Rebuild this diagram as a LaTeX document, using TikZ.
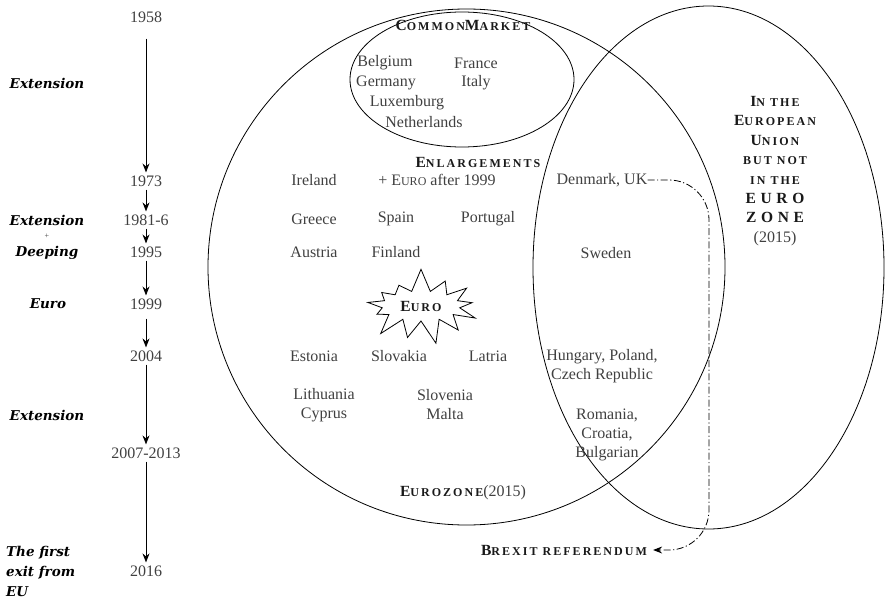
\documentclass[tikz,border=0pt]{standalone}
\usepackage{fontspec}
\setmainfont{Liberation Serif}
\newfontfamily\hdfont[LetterSpace=17]{Liberation Serif}
\newfontfamily\widefont[LetterSpace=30]{Liberation Serif}
\newfontfamily\lblfont{DejaVu Serif}
\usetikzlibrary{arrows.meta,shapes.symbols}
\definecolor{txt}{gray}{0.25}
\definecolor{hdc}{gray}{0.1}
\newcommand\hsc[2]{{\fontsize{15.5}{18}\selectfont #1}{\fontsize{12}{14}\selectfont #2}}
\begin{document}
\begin{tikzpicture}[x=1pt,y=-1pt,
  txtn/.style={font=\fontsize{16}{19}\selectfont, text=txt, inner sep=0pt, align=center},
  yr/.style={txtn, inner sep=3pt},
  hd/.style={font=\hdfont\bfseries\fontsize{12}{19.4}\selectfont, text=hdc, inner sep=0pt, align=center},
  lbl/.style={font=\lblfont\bfseries\itshape\fontsize{13.5}{20}\selectfont, text=black, inner sep=0pt},
  tl/.style={draw, -{Stealth[length=9pt,width=7pt,inset=3pt]}, line width=0.9pt},
  circ/.style={draw, line width=0.8pt},
  brx/.style={draw, line width=0.8pt, dash pattern=on 7pt off 2.5pt on 1.2pt off 2.5pt, rounded corners=40pt, -{Stealth[length=9pt,width=7pt,inset=3pt]}}
]
\useasboundingbox (0,0) rectangle (885,599);
% ellipses
\draw[circ] (466.5,267) ellipse [x radius=258.5pt, y radius=258pt];
\draw[circ] (708.5,267.5) ellipse [x radius=175.5pt, y radius=261.5pt];
\draw[circ] (462,79.5) ellipse [x radius=112pt, y radius=67.5pt];
% timeline
\node[yr] (y1958) at (146,17) {1958};
\node[yr] (y1973) at (146,181) {1973};
\node[yr] (y1981) at (146,220) {1981-6};
\node[yr] (y1995) at (146,252) {1995};
\node[yr] (y1999) at (146,304) {1999};
\node[yr] (y2004) at (146,356) {2004};
\node[yr] (y2007) at (146,453) {2007-2013};
\node[yr] (y2016) at (146,571) {2016};
\draw[tl, shorten <=13pt] (y1958) -- (y1973);
\draw[tl] (y1973) -- (y1981);
\draw[tl] (y1981) -- (y1995);
\draw[tl] (y1995) -- (y1999);
\draw[tl, shorten <=6pt] (y1999) -- (y2004);
\draw[tl] (y2004) -- (y2007);
\draw[tl] (y2007) -- (y2016);
% left labels
\node[lbl] (l1) at (47,83) {Extension};
\node[lbl] (l2) at (47,220) {Extension};
\node[txtn, font=\fontsize{8}{9}\selectfont] (lplus) at (47,236) {+};
\node[lbl] (l3) at (47,253) {Deeping};
\node[lbl] (l4) at (48,304) {Euro};
\node[lbl] (l5) at (47,415) {Extension};
\node[lbl, align=left, anchor=west] (l6) at (6,571) {The first\\exit from\\EU};
% common market
\node[hd] (cm) at (463,25) {\hsc{C}{OMMON}\hsc{M}{ARKET}};
\node[txtn] (be) at (385,63) {Belgium};
\node[txtn] (fr) at (476,63) {France};
\node[txtn] (de) at (386,83) {Germany};
\node[txtn] (it) at (476,83) {Italy};
\node[txtn] (lu) at (407,103) {Luxemburg};
\node[txtn] (nl) at (424,122) {Netherlands};
% enlargements
\node[hd] (enl) at (478,162) {\hsc{E}{NLARGEMENTS}};
\node[txtn] (ie) at (314,180) {Ireland};
\node[txtn] (eu99) at (437,180) {+ E{\fontsize{12}{14}\selectfont URO} after 1999};
\node[txtn] (dk) at (602,180) {Denmark, UK};
\node[txtn] (gr) at (314,219) {Greece};
\node[txtn] (es) at (396,219) {Spain};
\node[txtn] (pt) at (488,219) {Portugal};
\node[txtn] (at) at (314,252) {Austria};
\node[txtn] (fi) at (396,252) {Finland};
\node[txtn] (se) at (606,253) {Sweden};
\node[starburst, draw, line width=0.8pt, fill=white, minimum width=126pt, minimum height=78pt, starburst points=13, starburst point height=24pt, random starburst=7, font=\hdfont\bfseries, text=hdc, inner sep=0pt] (euro) at (421,306) {\hsc{E}{URO}};
\node[txtn] (ee) at (314,356) {Estonia};
\node[txtn] (sk) at (399,356) {Slovakia};
\node[txtn] (lv) at (488,356) {Latria};
\node[txtn] (hu) at (602,366.5) {Hungary, Poland,\\Czech Republic};
\node[txtn] (lt) at (324,405) {Lithuania\\Cyprus};
\node[txtn] (si) at (445,405) {Slovenia\\Malta};
\node[txtn] (ro) at (607,434.5) {Romania,\\Croatia,\\Bulgarian};
\node[hd] (ez) at (463,493) {\hsc{E}{UROZONE}{\normalfont\fontsize{16}{19}\selectfont\color{txt}(2015)}};
% right ellipse text
\node[hd] (eun) at (775,171) {\hsc{I}{N THE}\\\hsc{E}{UROPEAN}\\\hsc{U}{NION}\\BUT NOT\\IN THE\\{\widefont\bfseries\fontsize{15.5}{18}\selectfont EURO}\\{\widefont\bfseries\fontsize{15.5}{18}\selectfont ZONE}\\{\normalfont\fontsize{16}{19}\selectfont\color{txt}(2015)}};
% brexit
\node[hd, inner xsep=6pt] (br) at (564,550) {\hsc{B}{REXIT REFERENDUM}};
\coordinate (bend) at (709,0);
\draw[brx] (dk.east) -- (dk.east -| bend) -- (br.east -| bend) -- (br.east);
\end{tikzpicture}
\end{document}
